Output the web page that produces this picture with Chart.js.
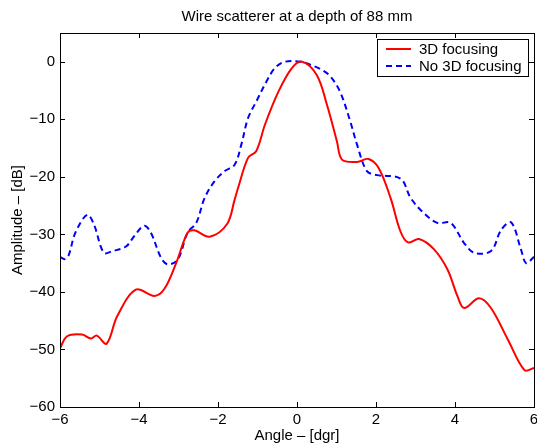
<!DOCTYPE html>
<html>
<head>
<meta charset="utf-8">
<script src="https://cdn.jsdelivr.net/npm/chart.js@4.4.0/dist/chart.umd.min.js"></script>
<style>
  body { margin: 0; background: #fff; }
  #wrap { width: 537px; height: 445px; }
</style>
</head>
<body>
<div id="wrap"><canvas id="beamChart"></canvas></div>
<script>
// angles in degrees and amplitude in dB
var focusAngle = [-6.0, -5.82, -5.44, -5.22, -5.07, -4.82, -4.55, -4.08, -3.61, -3.36, -3.06, -2.77, -2.60, -2.21, -1.77, -1.58, -1.49, -1.24, -1.03, -0.81, -0.47, -0.13, 0.13, 0.50, 0.76, 1.01, 1.14, 1.52, 1.81, 2.07, 2.37, 2.62, 2.81, 3.09, 3.47, 3.81, 4.06, 4.23, 4.61, 4.91, 5.34, 5.76, 6.0];
var focusAmp = [-49.8, -47.7, -47.4, -48.1, -47.6, -49.0, -44.2, -39.6, -40.7, -39.5, -35.0, -29.7, -29.3, -30.4, -28.2, -24.0, -21.9, -16.7, -15.5, -10.9, -5.2, -1.1, 0, -2.3, -7.5, -13.8, -17.0, -17.4, -16.9, -18.5, -23.7, -29.5, -31.4, -30.8, -32.6, -36.1, -40.7, -42.8, -41.1, -42.8, -48.3, -53.6, -53.2];

var noFocusAngle = [-6.0, -5.88, -5.78, -5.61, -5.31, -5.14, -4.89, -4.67, -4.33, -4.12, -3.87, -3.70, -3.44, -3.27, -3.02, -2.77, -2.55, -2.34, -2.09, -1.83, -1.58, -1.41, -1.24, -1.03, -0.77, -0.56, -0.31, 0.12, 0.33, 0.60, 0.84, 1.09, 1.35, 1.52, 1.77, 2.03, 2.62, 2.88, 3.21, 3.55, 3.89, 4.23, 4.49, 4.91, 5.17, 5.42, 5.67, 5.80, 6.0];
var noFocusAmp = [-33.9, -34.3, -33.6, -29.7, -26.6, -28.3, -33.2, -32.9, -32.1, -30.3, -28.5, -29.7, -34.1, -35.2, -34.4, -29.7, -28.0, -23.7, -20.8, -19.0, -17.9, -14.4, -9.8, -6.9, -3.4, -1.1, 0, 0, -0.5, -1.3, -2.5, -5.2, -10.4, -14.4, -19.0, -19.7, -20.3, -23.7, -26.3, -28.0, -28.0, -31.5, -33.2, -32.9, -29.2, -27.9, -32.6, -35.0, -33.9];

var seriesNames = ['3D focusing', 'No 3D focusing'];
var xTicks = [-6, -4, -2, 0, 2, 4, 6];
var yTicks = [-60, -50, -40, -30, -20, -10, 0];
var chartTitle = 'Wire scatterer at a depth of 88 mm';

function toPoints(xs, ys) {
    var pts = [];
    for (var i = 0; i < xs.length; i++) pts.push({x: xs[i], y: ys[i]});
    return pts;
}

var FONT = 'Liberation Sans, Arial, Helvetica, sans-serif';
var FSIZE = 15;

function minusSign(v) {
    return String(v).replace('-', '\u2212');
}

// matlab style box with inward ticks, title over the axes and the legend inside
var boxPlugin = {
    id: 'matlabBox',
    afterDraw: function(chart) {
        var ctx = chart.ctx;
        var a = chart.chartArea;
        var xs = chart.scales.x, ys = chart.scales.y;
        var len = 5;
        ctx.save();
        ctx.strokeStyle = '#000';
        ctx.lineWidth = 1;
        ctx.beginPath();
        xTicks.forEach(function(t) {
            var px = Math.round(xs.getPixelForValue(t)) + 0.5;
            ctx.moveTo(px, a.bottom); ctx.lineTo(px, a.bottom - len);
            ctx.moveTo(px, a.top); ctx.lineTo(px, a.top + len);
        });
        yTicks.forEach(function(t) {
            var py = Math.round(ys.getPixelForValue(t)) + 0.5;
            ctx.moveTo(a.left, py); ctx.lineTo(a.left + len, py);
            ctx.moveTo(a.right, py); ctx.lineTo(a.right - len, py);
        });
        ctx.stroke();
        ctx.strokeRect(Math.round(a.left) + 0.5, Math.round(a.top) + 0.5,
                       Math.round(a.right - a.left), Math.round(a.bottom - a.top));

        ctx.font = FSIZE + 'px ' + FONT;
        ctx.fillStyle = '#000';
        ctx.textAlign = 'center';
        ctx.textBaseline = 'middle';
        ctx.fillText(chartTitle, (a.left + a.right) / 2, 17);

        // legend
        var lx = 377, ly = 39, lw = 151, lh = 37;
        ctx.fillStyle = '#fff';
        ctx.fillRect(lx, ly, lw, lh);
        ctx.strokeRect(lx + 0.5, ly + 0.5, lw, lh);
        ctx.textAlign = 'left';
        chart.data.datasets.forEach(function(ds, i) {
            var yy = ly + 10 + i * 17;
            ctx.strokeStyle = ds.borderColor;
            ctx.lineWidth = ds.borderWidth;
            ctx.setLineDash(ds.borderDash || []);
            ctx.beginPath();
            ctx.moveTo(386, yy); ctx.lineTo(411, yy);
            ctx.stroke();
            ctx.setLineDash([]);
            ctx.fillStyle = '#000';
            ctx.fillText(ds.label, 419, yy + 1);
        });
        ctx.restore();
    }
};

new Chart(document.getElementById('beamChart'), {
    type: 'line',
    data: {
        datasets: [
            {
                label: seriesNames[0],
                data: toPoints(focusAngle, focusAmp),
                borderColor: '#ff0000',
                borderWidth: 2,
                pointRadius: 0,
                tension: 0.35,
                fill: false
            },
            {
                label: seriesNames[1],
                data: toPoints(noFocusAngle, noFocusAmp),
                borderColor: '#0000ff',
                borderWidth: 2,
                borderDash: [6, 4],
                pointRadius: 0,
                tension: 0.35,
                fill: false
            }
        ]
    },
    options: {
        responsive: true,
        maintainAspectRatio: false,
        animation: false,
        layout: { padding: { top: 33, right: 3, left: 0, bottom: 0 } },
        plugins: {
            legend: { display: false },
            tooltip: { enabled: false },
            title: { display: false }
        },
        scales: {
            x: {
                type: 'linear',
                min: -6, max: 6,
                afterBuildTicks: function(s) { s.ticks = xTicks.map(function(v) { return {value: v}; }); },
                afterFit: function(s) { s.height = 38; s.paddingLeft = 0; s.paddingRight = 0; },
                grid: { display: false, drawTicks: false },
                border: { display: false },
                ticks: {
                    color: '#000',
                    padding: 4,
                    maxRotation: 0,
                    font: { family: FONT, size: FSIZE },
                    callback: function(v) { return minusSign(v); }
                },
                title: {
                    display: true,
                    text: 'Angle \u2013 [dgr]',
                    color: '#000',
                    font: { family: FONT, size: FSIZE },
                    padding: { top: 0, bottom: 0 }
                }
            },
            y: {
                type: 'linear',
                min: -60, max: 5,
                afterBuildTicks: function(s) { s.ticks = yTicks.map(function(v) { return {value: v}; }); },
                afterFit: function(s) { s.width = 60; s.paddingTop = 0; s.paddingBottom = 0; },
                grid: { display: false, drawTicks: false },
                border: { display: false },
                ticks: {
                    color: '#000',
                    padding: 5,
                    font: { family: FONT, size: FSIZE },
                    callback: function(v) { return minusSign(v); }
                },
                title: {
                    display: true,
                    text: 'Amplitude \u2013 [dB]',
                    color: '#000',
                    font: { family: FONT, size: FSIZE },
                    padding: { top: 9, bottom: 0 }
                }
            }
        }
    },
    plugins: [boxPlugin]
});
</script>
</body>
</html>
